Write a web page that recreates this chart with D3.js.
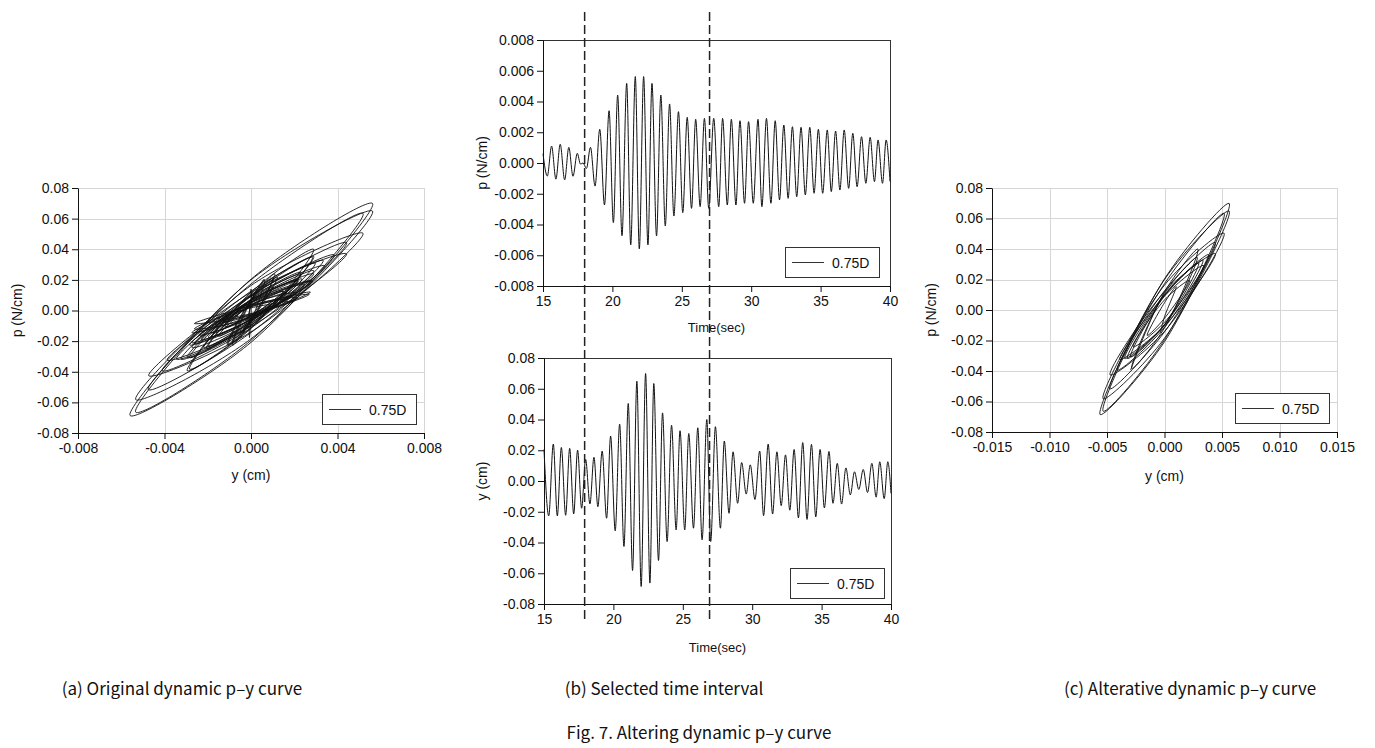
<!DOCTYPE html>
<html>
<head>
<meta charset="utf-8">
<script src="https://cdn.jsdelivr.net/npm/d3@7"></script>
<style>
  body { margin: 0; background: #fff; }
  text { font-family: "Liberation Sans", Arial, sans-serif; fill: #111; }
  .cap { font-family: "Noto Sans CJK KR", sans-serif; font-size: 17px; }
</style>
</head>
<body>
<svg id="fig" width="1375" height="748"></svg>
<script>
// extremes of the upper time history (labelled p (N/cm)), time in sec
var upperT = [15.00, 15.31, 15.62, 15.93, 16.24, 16.56, 16.86, 17.16, 17.47, 17.70,
  17.88, 18.13, 18.42, 18.75, 19.09, 19.43, 19.76, 20.07, 20.38, 20.69,
  21.03, 21.32, 21.65, 21.94, 22.25, 22.56, 22.85, 23.18, 23.49, 23.81,
  24.12, 24.43, 24.76, 25.07, 25.39, 25.70, 26.00, 26.32, 26.63, 26.94,
  27.30, 27.66, 27.94, 28.28, 28.57, 28.90, 29.19, 29.52, 29.81, 30.15,
  30.49, 30.77, 31.10, 31.42, 31.73, 32.04, 32.35, 32.66, 32.97, 33.28,
  33.59, 33.90, 34.22, 34.53, 34.84, 35.15, 35.48, 35.77, 36.08, 36.39,
  36.70, 37.02, 37.32, 37.63, 37.95, 38.26, 38.57, 38.88, 39.14, 39.46,
  39.72, 40.00];
var upperV = [0.0006, -0.00085, 0.0011, -0.00105, 0.00122, -0.0011, 0.00102, -0.00086, 0.00063, -0.00007,
  0.0000, -0.00035, 0.00102, -0.0015, 0.00219, -0.00273, 0.0034, -0.00388, 0.00442, -0.00473,
  0.00518, -0.00533, 0.00562, -0.00559, 0.00562, -0.00533, 0.00518, -0.00475, 0.00442, -0.0041,
  0.00384, -0.00345, 0.00334, -0.00323, 0.00297, -0.00295, 0.00284, -0.00284, 0.0029, -0.00295,
  0.0029, -0.00284, 0.0029, -0.00273, 0.00284, -0.00273, 0.00275, -0.00262, 0.00269, -0.00262,
  0.00284, -0.00284, 0.0029, -0.00262, 0.00275, -0.0024, 0.00247, -0.0023, 0.00236, -0.00219,
  0.00232, -0.00208, 0.00232, -0.00197, 0.00219, -0.00197, 0.00215, -0.00186, 0.00208, -0.00176,
  0.00215, -0.00165, 0.00193, -0.00154, 0.00171, -0.00132, 0.00167, -0.00121, 0.0015, -0.00132,
  0.0015, -0.0012];

// extremes of the lower time history (labelled y (cm))
var lowerT = [15.00, 15.34, 15.67, 15.96, 16.25, 16.56, 16.85, 17.14, 17.42, 17.71,
  18.00, 18.31, 18.60, 18.88, 19.19, 19.51, 19.80, 20.13, 20.45, 20.76,
  21.07, 21.38, 21.69, 22.00, 22.32, 22.63, 22.91, 23.25, 23.54, 23.87,
  24.19, 24.52, 24.80, 25.14, 25.43, 25.77, 26.08, 26.39, 26.73, 27.01,
  27.35, 27.71, 27.99, 28.33, 28.62, 28.95, 29.24, 29.57, 29.86, 30.20,
  30.54, 30.82, 31.15, 31.47, 31.78, 32.09, 32.40, 32.71, 33.02, 33.33,
  33.64, 33.95, 34.27, 34.58, 34.89, 35.20, 35.53, 35.82, 36.13, 36.44,
  36.75, 37.07, 37.37, 37.68, 38.00, 38.31, 38.62, 38.93, 39.19, 39.51,
  39.77, 40.00];
var lowerV = [0.0205, -0.0227, 0.024, -0.0227, 0.0218, -0.0223, 0.0212, -0.0214, 0.0201, -0.0177,
  0.014, -0.0149, 0.0154, -0.0167, 0.0195, -0.0242, 0.0292, -0.0324, 0.037, -0.0426,
  0.0504, -0.0582, 0.0649, -0.0686, 0.0699, -0.0664, 0.0634, -0.0517, 0.0443, -0.0394,
  0.0363, -0.0318, 0.0327, -0.0318, 0.0309, -0.0307, 0.0346, -0.0383, 0.040, -0.0394,
  0.0353, -0.0307, 0.026, -0.021, 0.019, -0.0145, 0.012, -0.0085, 0.0105, -0.012,
  0.0195, -0.0225, 0.024, -0.0215, 0.019, -0.016, 0.017, -0.019, 0.0205, -0.024,
  0.025, -0.025, 0.0238, -0.0233, 0.0205, -0.0175, 0.0192, -0.0145, 0.0115, -0.015,
  0.0085, -0.009, 0.006, -0.0055, 0.0075, -0.0075, 0.0115, -0.0105, 0.0125, -0.0115,
  0.0125, -0.008];

// lower value when the upper curve crosses zero between two extremes (loop width)
var crossV = [0.0066, -0.0070, 0.0070, -0.0067, 0.0066, -0.0065, 0.0064, -0.0062, 0.0057, -0.0048,
  0.0043, -0.0045, 0.0048, -0.0054, 0.0066, -0.0080, 0.0092, -0.0104, 0.0119, -0.0140,
  0.0163, -0.0185, 0.0200, -0.0208, 0.0204, -0.0195, 0.0173, -0.0144, 0.0126, -0.0114,
  0.0102, -0.0097, 0.0097, -0.0094, 0.0092, -0.0098, 0.0109, -0.0117, 0.0119, -0.0112,
  0.0099, -0.0085, 0.0070, -0.0060, 0.0050, -0.0040, 0.0031, -0.0029, 0.0034, -0.0047,
  0.0063, -0.0070, 0.0068, -0.0061, 0.0053, -0.0050, 0.0054, -0.0059, 0.0067, -0.0074,
  0.0075, -0.0073, 0.0071, -0.0066, 0.0057, -0.0055, 0.0051, -0.0039, 0.0040, -0.0035,
  0.0026, -0.0023, 0.0017, -0.0020, 0.0023, -0.0029, 0.0033, -0.0035, 0.0036, -0.0036,
  0.0031];

var selected = [18, 27];   // selected time interval (dashed lines)

var pyTicksA = [-0.008, -0.004, 0, 0.004, 0.008];
var pyTicksC = [-0.015, -0.010, -0.005, 0, 0.005, 0.010, 0.015];
var pTicks = [-0.08, -0.06, -0.04, -0.02, 0, 0.02, 0.04, 0.06, 0.08];
var upperTicks = [-0.008, -0.006, -0.004, -0.002, 0, 0.002, 0.004, 0.006, 0.008];
var timeTicks = [15, 20, 25, 30, 35, 40];

var svg = d3.select("#fig");
svg.append("rect").attr("width", 1375).attr("height", 748).attr("fill", "#fff");

function fmt(n) {
  var f = d3.format("." + n + "f");
  return function(d) { return f(d).replace("\u2212", "-"); };
}

// one chart panel: scales, optional grid, axes, frame, titles
function panel(c) {
  var x = d3.scaleLinear().domain(c.xd).range([c.l, c.r]);
  var y = d3.scaleLinear().domain(c.yd).range([c.b, c.t]);
  var g = svg.append("g");

  if (c.grid) {
    g.selectAll(".gx").data(c.xt).enter().append("line")
      .attr("x1", d => Math.round(x(d)) + 0.5).attr("x2", d => Math.round(x(d)) + 0.5)
      .attr("y1", c.t).attr("y2", c.b)
      .attr("stroke", "#d6d6d6");
    g.selectAll(".gy").data(c.yt).enter().append("line")
      .attr("x1", c.l).attr("x2", c.r)
      .attr("y1", d => Math.round(y(d)) + 0.5).attr("y2", d => Math.round(y(d)) + 0.5)
      .attr("stroke", "#d6d6d6");
  }
  if (c.frame) {
    g.append("rect").attr("x", c.l + 0.5).attr("y", c.t + 0.5)
      .attr("width", c.r - c.l).attr("height", c.b - c.t)
      .attr("fill", "none").attr("stroke", "#333");
  }

  var ax = g.append("g").attr("transform", `translate(0,${c.b})`)
    .call(d3.axisBottom(x).tickValues(c.xt).tickFormat(c.xf).tickSize(6).tickSizeOuter(0).tickPadding(4));
  var ay = g.append("g").attr("transform", `translate(${c.l},0)`)
    .call(d3.axisLeft(y).tickValues(c.yt).tickFormat(c.yf).tickSize(6).tickSizeOuter(0).tickPadding(3));
  [ax, ay].forEach(function(a) {
    a.selectAll("text").attr("font-size", 14).attr("font-family", "Liberation Sans, Arial, sans-serif").attr("fill", "#111");
    a.selectAll("line, path").attr("stroke", "#111");
  });

  g.append("text").attr("x", (c.l + c.r) / 2).attr("y", c.xtY)
    .attr("text-anchor", "middle").attr("font-size", c.xtSize || 14).text(c.xTitle);
  g.append("text").attr("transform", `translate(${c.ytX},${(c.t + c.b) / 2}) rotate(-90)`)
    .attr("text-anchor", "middle").attr("font-size", 14).text(c.yTitle);

  // legend
  var lg = g.append("g").attr("transform", `translate(${c.leg[0]},${c.leg[1]})`);
  lg.append("rect").attr("x", 0.5).attr("y", 0.5).attr("width", 94).attr("height", 30)
    .attr("fill", "#fff").attr("stroke", "#333");
  lg.append("line").attr("x1", 7).attr("x2", 39).attr("y1", 15.5).attr("y2", 15.5)
    .attr("stroke", "#333");
  lg.append("text").attr("x", 47).attr("y", 20.5).attr("font-size", 14).text("0.75D");

  return { g: g, x: x, y: y, c: c };
}

var pa = panel({ xd: [-0.008, 0.008], yd: [-0.08, 0.08], l: 78, r: 424, t: 188, b: 433,
  xt: pyTicksA, yt: pTicks, xf: fmt(3), yf: fmt(2), grid: true,
  xTitle: "y (cm)", xtY: 480, yTitle: "p (N/cm)", ytX: 22, leg: [322, 394] });
var pc = panel({ xd: [-0.015, 0.015], yd: [-0.08, 0.08], l: 992, r: 1337, t: 188, b: 432,
  xt: pyTicksC, yt: pTicks, xf: fmt(3), yf: fmt(2), grid: true,
  xTitle: "y (cm)", xtY: 481, yTitle: "p (N/cm)", ytX: 936, leg: [1235, 393] });
var pb1 = panel({ xd: [15, 40], yd: [-0.008, 0.008], l: 543, r: 890, t: 40, b: 286,
  xt: timeTicks, yt: upperTicks, xf: d3.format("d"), yf: fmt(3), frame: true,
  xTitle: "Time(sec)", xtSize: 13, xtY: 332, yTitle: "p (N/cm)", ytX: 487, leg: [785, 247] });
var pb2 = panel({ xd: [15, 40], yd: [-0.08, 0.08], l: 544, r: 891, t: 358, b: 604,
  xt: timeTicks, yt: pTicks, xf: d3.format("d"), yf: fmt(2), frame: true,
  xTitle: "Time(sec)", xtSize: 13, xtY: 652, yTitle: "y (cm)", ytX: 487, leg: [790, 568] });

// time histories
function drawSeries(p, ts, vs) {
  var line = d3.line().x(d => p.x(d[0])).y(d => p.y(d[1])).curve(d3.curveMonotoneX);
  p.g.insert("path", "g").datum(d3.zip(ts, vs))
    .attr("d", line).attr("fill", "none").attr("stroke", "#111").attr("stroke-width", 1);
}
drawSeries(pb1, upperT, upperV);
drawSeries(pb2, lowerT, lowerV);

// p-y loops: upper value on the horizontal axis, lower value on the vertical axis
function loopPoints(i0, i1) {
  var pts = [];
  for (var i = i0; i <= i1; i++) {
    pts.push([upperV[i], lowerV[i]]);
    if (i < i1) pts.push([0, crossV[i]]);
  }
  return pts;
}
function drawLoops(p, pts) {
  var line = d3.line().x(d => p.x(d[0])).y(d => p.y(d[1])).curve(d3.curveCatmullRom.alpha(0.5));
  p.g.insert("path", "g").datum(pts)
    .attr("d", line).attr("fill", "none").attr("stroke", "#111").attr("stroke-width", 0.9);
}
var inWin = d3.range(upperT.length).filter(i => upperT[i] >= selected[0] && upperT[i] <= selected[1]);
drawLoops(pa, loopPoints(0, upperT.length - 1));
drawLoops(pc, loopPoints(inWin[0], inWin[inWin.length - 1]));

// move legends above the curves
[pa, pc, pb1, pb2].forEach(function(p) { p.g.selectAll("g").raise(); });

// dashed lines marking the selected interval
svg.selectAll(".sel").data(selected).enter().append("line")
  .attr("x1", d => pb1.x(d)).attr("x2", d => pb1.x(d))
  .attr("y1", 12).attr("y2", 622)
  .attr("stroke", "#222").attr("stroke-width", 1.5).attr("stroke-dasharray", "9,4");

// captions
var caps = [["(a) Original dynamic p\u2013y curve", 182, 695],
  ["(b) Selected time interval", 664, 695],
  ["(c) Alterative dynamic p\u2013y curve", 1190, 695],
  ["Fig. 7. Altering dynamic p\u2013y curve", 699, 739]];
svg.selectAll(".cap").data(caps).enter().append("text")
  .attr("class", "cap").attr("x", d => d[1]).attr("y", d => d[2])
  .attr("text-anchor", "middle").text(d => d[0]);
</script>
</body>
</html>
